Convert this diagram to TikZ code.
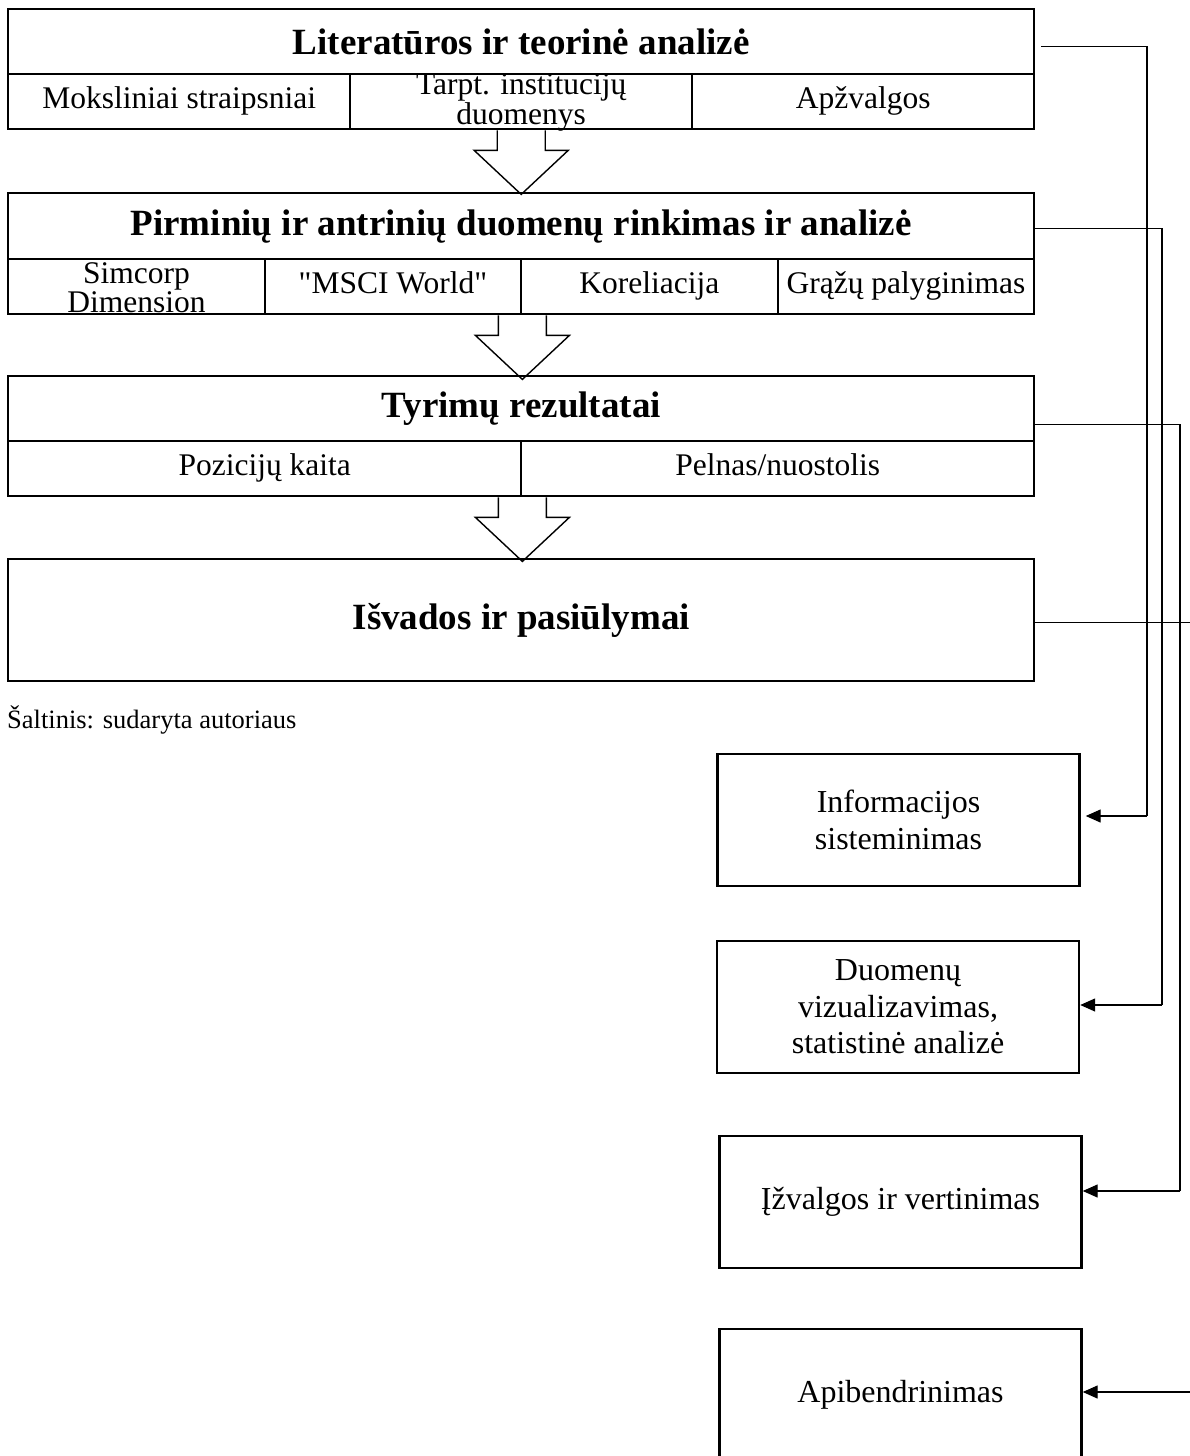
\documentclass[tikz,border=0pt]{standalone}
\usepackage{fontspec}
\setmainfont{Liberation Serif}
\usetikzlibrary{arrows.meta,calc}
\newcommand\straightq{\XeTeXglyph\XeTeXcharglyph"22\relax}
\begin{document}
\begin{tikzpicture}[x=1pt,y=1pt,
  hdr/.style={draw, line width=2.4pt, minimum width=1026pt, anchor=north west, inner sep=0pt, font=\fontsize{37}{40}\selectfont\bfseries},
  cell/.style={draw, line width=2.4pt, minimum height=55pt, anchor=north west, inner sep=0pt, align=center, font=\fontsize{31.5}{25}\selectfont},
  celltext/.style={inner sep=0pt, align=center, font=\fontsize{31.5}{25}\selectfont},
  rbox/.style={draw, line width=2.4pt, minimum width=362pt, minimum height=132pt, inner sep=0pt, align=center, font=\fontsize{32}{36.5}\selectfont},
  barrow/.style={line width=1.4pt},
  conn/.style={line width=1.3pt},
  connarr/.style={line width=1.3pt, -{Triangle[length=15pt,width=13pt]}}
]
\clip (0,0) rectangle (1190,-1456);
\fill[white] (0,0) rectangle (1190,-1456);

% Box 1
\node[hdr, minimum height=65pt] (h1) at (7,-8) {Literatūros ir teorinė analizė};
\node[cell, minimum width=342pt] (s11) at (7,-73) {\strut Moksliniai straipsniai};
\node[cell, minimum width=342pt] (s12) at (349,-73) {};
\node[celltext] (t12) at ([yshift=-1pt]s12.center) {Tarpt. institucijų\\duomenys};
\node[cell, minimum width=342pt] (s13) at (691,-73) {\strut Apžvalgos};

% Box 2
\node[hdr, minimum height=66pt] (h2) at (7,-192) {Pirminių ir antrinių duomenų rinkimas ir analizė};
\node[cell, minimum width=256.5pt] (s21) at (7,-258) {};
\node[celltext] (t21) at ([yshift=-1pt]s21.center) {Simcorp\\Dimension};
\node[cell, minimum width=256.5pt] (s22) at (263.5,-258) {\strut\straightq MSCI World\straightq};
\node[cell, minimum width=256.5pt] (s23) at (520,-258) {\strut Koreliacija};
\node[cell, minimum width=256.5pt] (s24) at (776.5,-258) {\strut Grąžų palyginimas};

% Box 3
\node[hdr, minimum height=65pt] (h3) at (7,-375) {Tyrimų rezultatai};
\node[cell, minimum width=513pt] (s31) at (7,-440) {\strut Pozicijų kaita};
\node[cell, minimum width=513pt] (s32) at (520,-440) {\strut Pelnas/nuostolis};

% Box 4
\node[hdr, minimum height=122pt] (h4) at (7,-558) {Išvados ir pasiūlymai};

% Source
\node[anchor=west, inner sep=0pt, font=\fontsize{26.5}{30}\selectfont] (src) at (7,-720) {Šaltinis: sudaryta autoriaus};

% Block arrows
\coordinate (a1) at (s12.south);
\coordinate (a2) at (s22.south east);
\coordinate (a3) at (s31.south east);
\foreach \s in {a1,a2,a3}{
  \draw[barrow] ([xshift=-24pt]\s) -- ++(0,-20) -- ++(-23,0) -- ++(47,-44) -- ++(47,44) -- ++(-23,0) -- ++(0,20);
}

% Right boxes
\node[rbox] (info) at (898.5,-820) {Informacijos\\sisteminimas};
\node[rbox] (viz) at (898,-1007) {Duomenų\\vizualizavimas,\\statistinė analizė};
\node[rbox] (izv) at (900.5,-1202) {Įžvalgos ir vertinimas};
\node[rbox] (api) at (900.5,-1395) {Apibendrinimas};

% Connectors
\coordinate (c1) at (1147,-816);
\coordinate (c2) at (1162,-1005);
\coordinate (c3) at (1180,-1191);
\coordinate (c4) at (1200,-1392);
\draw[conn] ([shift={(6pt,-5pt)}]h1.east) -| (c1);
\draw[connarr] (c1) -- ([xshift=5pt]c1 -| info.east);
\draw[conn] ([yshift=-2pt]h2.east) -| (c2);
\draw[connarr] (c2) -- (c2 -| viz.east);
\draw[conn] ([yshift=-16pt]h3.east) -| (c3);
\draw[connarr] (c3) -- (c3 -| izv.east);
\draw[conn] ([yshift=-2pt]h4.east) -- ++(180,0);
\draw[connarr] (c4) -- (c4 -| api.east);
\end{tikzpicture}
\end{document}
